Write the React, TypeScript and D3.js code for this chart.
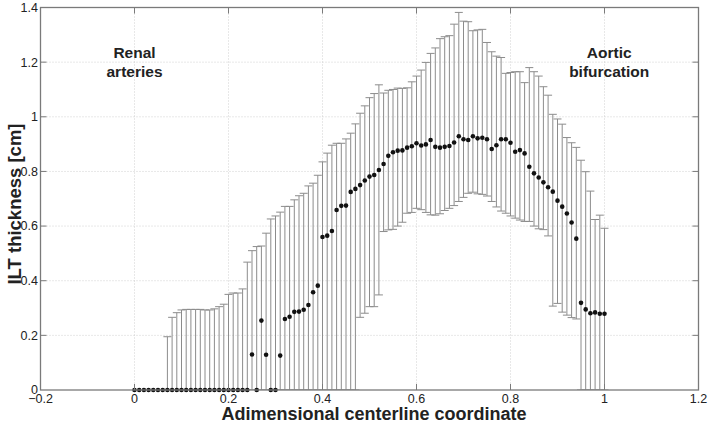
import * as d3 from 'd3';
import React, { useRef, useEffect } from 'react';

// centerline coordinate, 0..1 in steps of 0.01
const coords = d3.range(101).map((i) => i / 100);

const meanThickness = [
  0, 0, 0, 0, 0, 0, 0, 0, 0, 0,
  0, 0, 0, 0, 0, 0, 0, 0, 0, 0,
  0, 0, 0, 0, 0, 0.13, 0, 0.254, 0.129, 0,
  0, 0.126, 0.26, 0.268, 0.286, 0.287, 0.294, 0.311, 0.358, 0.382,
  0.56, 0.565, 0.582, 0.659, 0.674, 0.675, 0.725, 0.736, 0.75, 0.767,
  0.781, 0.787, 0.805, 0.827, 0.857, 0.87, 0.876, 0.877, 0.887, 0.892,
  0.903, 0.895, 0.899, 0.915, 0.89, 0.887, 0.89, 0.893, 0.906, 0.929,
  0.918, 0.915, 0.929, 0.921, 0.923, 0.918, 0.882, 0.896, 0.918, 0.918,
  0.905, 0.872, 0.878, 0.866, 0.817, 0.793, 0.778, 0.76, 0.742, 0.726,
  0.693, 0.671, 0.646, 0.613, 0.554, 0.319, 0.295, 0.281, 0.284, 0.279,
  0.279,
];

const upperThickness = [
  0, 0, 0, 0, 0, 0, 0, 0.195, 0.266, 0.283,
  0.293, 0.295, 0.295, 0.295, 0.295, 0.293, 0.293, 0.297, 0.305, 0.314,
  0.35, 0.355, 0.355, 0.37, 0.468, 0.51, 0.525, 0.527, 0.574, 0.626,
  0.637, 0.651, 0.672, 0.672, 0.696, 0.711, 0.72, 0.747, 0.757, 0.786,
  0.835, 0.867, 0.896, 0.903, 0.903, 0.919, 0.94, 0.974, 1.013, 1.04,
  1.07, 1.085, 1.117, 1.087, 1.097, 1.1, 1.105, 1.104, 1.106, 1.128,
  1.149, 1.171, 1.199, 1.232, 1.252, 1.286, 1.293, 1.297, 1.339, 1.382,
  1.35, 1.348, 1.315, 1.318, 1.32, 1.272, 1.238, 1.222, 1.217, 1.159,
  1.162, 1.165, 1.165, 1.125, 1.18, 1.165, 1.149, 1.11, 1.079, 1.009,
  0.992, 0.973, 0.924, 0.905, 0.888, 0.841, 0.799, 0.728, 0.624, 0.64,
  0.592,
];

const lowerThickness = [
  0, 0, 0, 0, 0, 0, 0, 0, 0, 0,
  0, 0, 0, 0, 0, 0, 0, 0, 0, 0,
  0, 0, 0, 0, 0, 0, 0, 0, 0, 0,
  0, 0, 0, 0, 0, 0, 0, 0, 0, 0,
  0, 0, 0, 0, 0, 0, 0, 0, 0.266, 0.281,
  0.305, 0.305, 0.348, 0.58, 0.586, 0.588, 0.6, 0.614, 0.647, 0.65,
  0.665, 0.66, 0.65, 0.641, 0.64, 0.645, 0.657, 0.665, 0.675, 0.69,
  0.705, 0.72, 0.724, 0.718, 0.716, 0.71, 0.69, 0.67, 0.655, 0.647,
  0.637, 0.629, 0.622, 0.617, 0.617, 0.6, 0.59, 0.587, 0.564, 0.307,
  0.317, 0.285, 0.274, 0.265, 0.26, 0, 0, 0, 0, 0,
  0,
];

const xTicks = [-0.2, 0, 0.2, 0.4, 0.6, 0.8, 1, 1.2];
const yTicks = [0, 0.2, 0.4, 0.6, 0.8, 1, 1.2, 1.4];
const xTitle = 'Adimensional centerline coordinate';
const yTitle = 'ILT thickness [cm]';
const notes = [
  { lines: ['Renal', 'arteries'], at: 0 },
  { lines: ['Aortic', 'bifurcation'], at: 1.01 },
];

const App: React.FC = () => {
  const svgRef = useRef<SVGSVGElement | null>(null);
  const width = 709;
  const height = 423;

  useEffect(() => {
    const l = 40.5, r = 698.5, t = 7.5, b = 390;
    const x = d3.scaleLinear().domain([-0.2, 1.2]).range([l, r]);
    const y = d3.scaleLinear().domain([0, 1.4]).range([b, t]);

    const svg = d3.select(svgRef.current).attr('width', width).attr('height', height);
    svg.selectAll('*').remove();

    svg.append('rect').attr('width', width).attr('height', height).attr('fill', '#fff');

    svg.append('clipPath').attr('id', 'plot-clip')
      .append('rect').attr('x', l).attr('y', t).attr('width', r - l).attr('height', b - t);

    // dotted grid
    const grid = svg.append('g').attr('stroke', '#c4c4c4').attr('stroke-width', 0.8)
      .attr('stroke-dasharray', '1,2');
    xTicks.slice(1, -1).forEach((v) => {
      grid.append('line').attr('x1', x(v)).attr('x2', x(v)).attr('y1', t).attr('y2', b);
    });
    yTicks.slice(1, -1).forEach((v) => {
      grid.append('line').attr('x1', l).attr('x2', r).attr('y1', y(v)).attr('y2', y(v));
    });

    // error bars
    const bars = svg.append('g').attr('clip-path', 'url(#plot-clip)')
      .attr('stroke', '#8c8c8c').attr('stroke-width', 1).attr('fill', 'none');
    const cap = 4;
    coords.forEach((c, i) => {
      const hi = upperThickness[i];
      const lo = lowerThickness[i];
      if (hi === lo) return;
      const cx = x(c);
      bars.append('line').attr('x1', cx).attr('x2', cx).attr('y1', y(lo)).attr('y2', y(hi));
      bars.append('line').attr('x1', cx - cap).attr('x2', cx + cap).attr('y1', y(hi)).attr('y2', y(hi));
      bars.append('line').attr('x1', cx - cap).attr('x2', cx + cap).attr('y1', y(lo)).attr('y2', y(lo));
    });

    // means
    svg.append('g').attr('fill', '#111')
      .selectAll('circle').data(coords).enter().append('circle')
      .attr('cx', (d) => x(d))
      .attr('cy', (_, i) => y(meanThickness[i]))
      .attr('r', 2.3);

    // axes box
    svg.append('rect').attr('x', l).attr('y', t).attr('width', r - l).attr('height', b - t)
      .attr('fill', 'none').attr('stroke', '#7a7a7a').attr('stroke-width', 1.3);

    const tk = svg.append('g').attr('stroke', '#7a7a7a').attr('stroke-width', 1);
    const tl = 6;
    xTicks.slice(1, -1).forEach((v) => {
      tk.append('line').attr('x1', x(v)).attr('x2', x(v)).attr('y1', b).attr('y2', b - tl);
      tk.append('line').attr('x1', x(v)).attr('x2', x(v)).attr('y1', t).attr('y2', t + tl);
    });
    yTicks.slice(1, -1).forEach((v) => {
      tk.append('line').attr('x1', l).attr('x2', l + tl).attr('y1', y(v)).attr('y2', y(v));
      tk.append('line').attr('x1', r).attr('x2', r - tl).attr('y1', y(v)).attr('y2', y(v));
    });

    const font = '"Liberation Sans", Arial, sans-serif';
    svg.append('g').attr('font-family', font).attr('font-size', 12.5).attr('fill', '#222')
      .attr('text-anchor', 'middle')
      .selectAll('text').data(xTicks).enter().append('text')
      .attr('x', (d) => x(d)).attr('y', b + 12.5)
      .text((d) => d3.format('~g')(d));

    svg.append('g').attr('font-family', font).attr('font-size', 12.5).attr('fill', '#222')
      .attr('text-anchor', 'end')
      .selectAll('text').data(yTicks).enter().append('text')
      .attr('x', l - 2.5).attr('y', (d) => y(d)).attr('dy', '0.35em')
      .text((d) => d3.format('~g')(d));

    svg.append('text').attr('font-family', font).attr('font-weight', 'bold')
      .attr('font-size', 18).attr('fill', '#222').attr('text-anchor', 'middle')
      .attr('x', 374).attr('y', 420).text(xTitle);

    svg.append('text').attr('font-family', font).attr('font-weight', 'bold')
      .attr('font-size', 18.5).attr('fill', '#222').attr('text-anchor', 'middle')
      .attr('transform', `translate(21,${204}) rotate(-90)`)
      .text(yTitle);

    notes.forEach((n) => {
      const g = svg.append('text').attr('font-family', font).attr('font-weight', 'bold')
        .attr('font-size', 15.5).attr('fill', '#222').attr('text-anchor', 'middle');
      n.lines.forEach((s, k) => {
        g.append('tspan').attr('x', x(n.at)).attr('y', 58 + k * 19).text(s);
      });
    });
  }, []);

  return (
    <svg ref={svgRef} style={{ position: 'absolute', left: 0, top: 0, display: 'block' }}></svg>
  );
};

export default App;
